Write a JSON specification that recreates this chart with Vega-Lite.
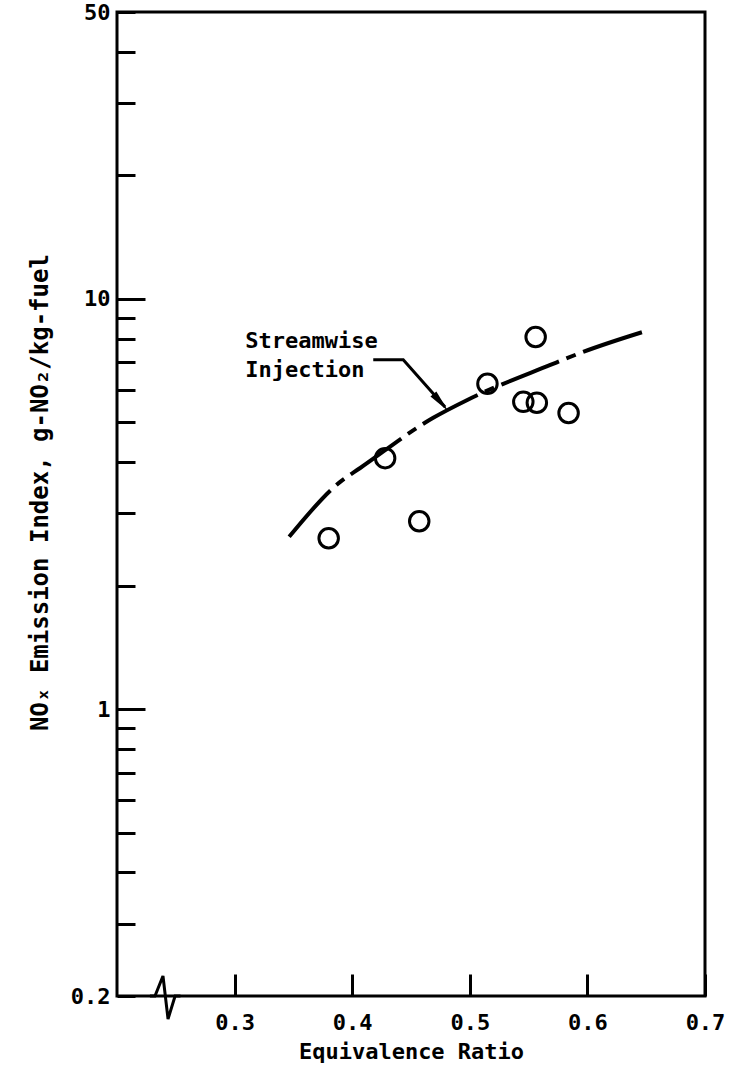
{
  "$schema": "https://vega.github.io/schema/vega-lite/v6.json",
  "width": 588,
  "height": 984,
  "autosize": {"type": "none"},
  "padding": {"left": 117, "top": 12, "right": 25, "bottom": 75},
  "background": "white",
  "config": {
    "view": {"stroke": "black", "strokeWidth": 3},
    "axis": {
      "domain": false,
      "grid": false,
      "tickColor": "black",
      "tickWidth": 3,
      "labelColor": "black",
      "titleColor": "black",
      "labelFont": "DejaVu Sans Mono",
      "titleFont": "DejaVu Sans Mono",
      "labelFontSize": 22,
      "titleFontSize": 22,
      "labelFontWeight": "bold",
      "titleFontWeight": "bold",
      "labelOverlap": false,
      "labelBound": false,
      "labelFlush": false
    }
  },
  "datasets": {
    "pts": [
      {"phi": 0.380, "ei": 2.61},
      {"phi": 0.428, "ei": 4.09},
      {"phi": 0.457, "ei": 2.87},
      {"phi": 0.515, "ei": 6.21},
      {"phi": 0.5455, "ei": 5.61},
      {"phi": 0.557, "ei": 5.58},
      {"phi": 0.556, "ei": 8.07},
      {"phi": 0.584, "ei": 5.27}
    ],
    "curve": [
      {"phi": 0.3464, "ei": 2.63},
      {"phi": 0.3898, "ei": 3.58},
      {"phi": 0.4068, "ei": 3.87},
      {"phi": 0.4689, "ei": 5.13},
      {"phi": 0.4979, "ei": 5.67},
      {"phi": 0.5685, "ei": 6.90},
      {"phi": 0.594, "ei": 7.38},
      {"phi": 0.6528, "ei": 8.40}
    ],
    "labels": [
      {"phi": 0.309, "ei": 7.57, "txt": "Streamwise"},
      {"phi": 0.309, "ei": 6.44, "txt": "Injection"}
    ],
    "arrow": [
      {"phi": 0.4179, "ei": 7.10},
      {"phi": 0.4434, "ei": 7.10},
      {"phi": 0.4790, "ei": 5.45}
    ],
    "head": [
      {"phi": 0.4753, "ei": 5.59}
    ],
    "brk": [
      {"phi": 0.2280, "ei": 0.2},
      {"phi": 0.2323, "ei": 0.2},
      {"phi": 0.2391, "ei": 0.2238},
      {"phi": 0.2434, "ei": 0.1758},
      {"phi": 0.2494, "ei": 0.2},
      {"phi": 0.2540, "ei": 0.2}
    ]
  },
  "encoding": {
    "x": {
      "field": "phi",
      "type": "quantitative",
      "scale": {"domain": [0.2, 0.7], "nice": false, "zero": false},
      "axis": {
        "values": [0.3, 0.4, 0.5, 0.6, 0.7],
        "format": ".1f",
        "tickSize": -22,
        "labelPadding": 38,
        "title": "Equivalence Ratio",
        "titlePadding": 8
      }
    },
    "y": {
      "field": "ei",
      "type": "quantitative",
      "scale": {"type": "log", "domain": [0.2, 50], "nice": false},
      "axis": {
        "values": [0.2, 0.3, 0.4, 0.5, 0.6, 0.7, 0.8, 0.9, 1, 2, 3, 4, 5, 6, 7, 8, 9, 10, 20, 30, 40, 50],
        "labelExpr": "datum.value == 50 ? '50' : datum.value == 10 ? '10' : datum.value == 1 ? '1' : datum.value == 0.2 ? '0.2' : ''",
        "tickSize": {"condition": {"test": "datum.value == 1 || datum.value == 10", "value": -28}, "value": -18},
        "labelPadding": {"condition": {"test": "datum.value == 1 || datum.value == 10", "value": 35}, "value": 25},
        "title": "NOₓ Emission Index, g-NO₂/kg-fuel",
        "titleFontSize": 24,
        "titlePadding": 18,
        "titleY": 480
      }
    }
  },
  "layer": [
    {
      "data": {"name": "curve"},
      "mark": {"type": "line", "color": "black", "strokeWidth": 4, "interpolate": "monotone", "strokeDash": [62, 8, 10, 8]}
    },
    {
      "data": {"name": "pts"},
      "mark": {"type": "point", "shape": "circle", "filled": false, "color": "black", "size": 380, "strokeWidth": 3, "opacity": 1}
    },
    {
      "data": {"name": "labels"},
      "mark": {"type": "text", "align": "left", "baseline": "alphabetic", "font": "DejaVu Sans Mono", "fontSize": 22, "fontWeight": "bold", "color": "black"},
      "encoding": {"text": {"field": "txt"}}
    },
    {
      "data": {"name": "arrow"},
      "mark": {"type": "line", "color": "black", "strokeWidth": 3}
    },
    {
      "data": {"name": "head"},
      "mark": {"type": "point", "shape": "M-1,-0.35L1,0L-1,0.35Z", "filled": true, "color": "black", "size": 500, "angle": 49, "opacity": 1}
    },
    {
      "data": {"name": "brk"},
      "mark": {"type": "line", "color": "black", "strokeWidth": 3, "clip": false}
    }
  ]
}
